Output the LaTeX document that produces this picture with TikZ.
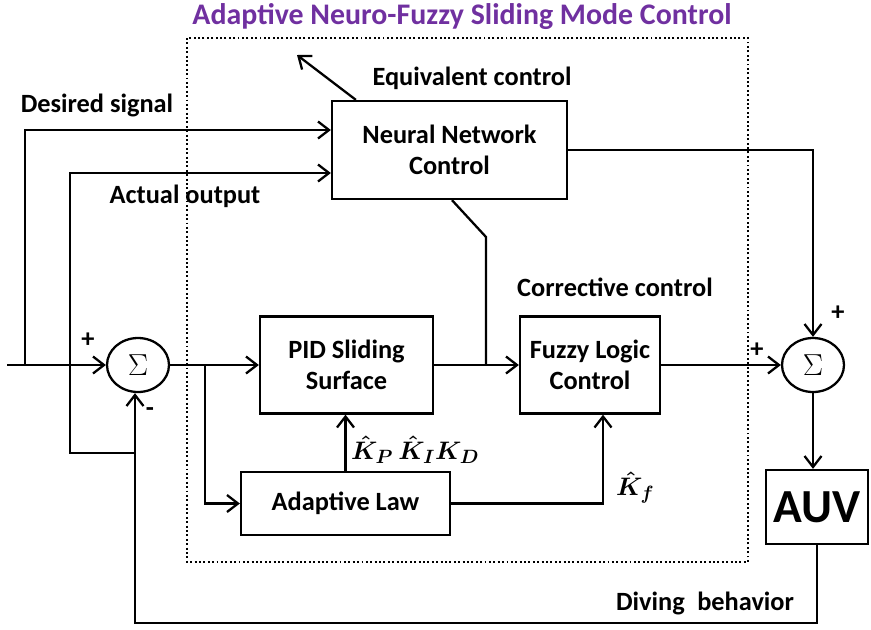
\documentclass[tikz,border=0pt]{standalone}
\usepackage{amsmath}
\usepackage{fontspec}
\setmainfont{Carlito}
\usetikzlibrary{arrows.meta,shapes.geometric}
\definecolor{titlepurple}{RGB}{112,48,160}
\begin{document}
\begin{tikzpicture}[line width=1.3pt,>={Straight Barb[length=2.2mm,width=3.4mm]},
  font=\fontsize{15}{18}\selectfont\bfseries,
  blk/.style={draw,align=center,inner sep=0pt},
  summer/.style={draw,ellipse,minimum width=1.24cm,minimum height=1.08cm,inner sep=0pt,font=\fontsize{16}{16}\selectfont},
  lbl/.style={inner sep=0pt},
  gain/.style={inner sep=0pt,font=\fontsize{15}{15}\selectfont\boldmath}]
\useasboundingbox (0,0) rectangle (17.42,-12.58);
\draw [line width=1.2pt,dash pattern=on 1.1pt off 1.4pt] (3.74,-0.76) rectangle (14.96,-11.24);
\node [lbl,text=titlepurple,font=\fontsize{17}{20}\selectfont\bfseries] (title) at (9.24,-0.34) {Adaptive Neuro-Fuzzy Sliding Mode Control};
\node [blk,minimum width=4.7cm,minimum height=1.96cm] (nnc) at (8.99,-3.0) {Neural Network\\Control};
\node [blk,minimum width=3.46cm,minimum height=1.94cm] (pid) at (6.93,-7.3) {PID Sliding\\Surface};
\node [blk,minimum width=2.8cm,minimum height=1.94cm] (flc) at (11.8,-7.3) {Fuzzy Logic\\Control};
\node [blk,minimum width=4.18cm,minimum height=1.26cm] (alaw) at (6.91,-10.07) {Adaptive Law};
\node [blk,minimum width=2.04cm,minimum height=1.48cm,font=\fontsize{27}{27}\selectfont\bfseries] (auv) at (16.34,-10.14) {AUV};
\node [summer] (sumA) at (2.76,-7.3) {$\Sigma$};
\node [summer] (sumB) at (16.26,-7.3) {$\Sigma$};
\coordinate (in) at (0.14,-7.3);
\coordinate (ds) at (0.5,-7.3);
\coordinate (ao) at (2.7,-9.06);
\coordinate (br) at (4.1,-7.3);
\coordinate (jn) at (9.72,-7.3);
\coordinate (eq) at (5.94,-1.1);
\coordinate (fb) at (2.7,-12.46);
\draw [->] (in) -- (sumA);
\draw [->] (ds) |- ([yshift=0.4cm]nnc.west);
\draw [->] (ao) -- (1.4,-9.06) |- ([yshift=-0.46cm]nnc.west);
\draw [->] (sumA) -- (pid);
\draw [->] (br) |- (alaw);
\draw [->] (pid) -- (flc);
\draw ([xshift=0.05cm]nnc.south) -- (9.72,-4.74) -- (jn);
\draw [->] ([xshift=0.5cm]nnc.north west) -- (eq);
\draw [->] (alaw.north) -- (alaw.north |- pid.south);
\draw [->] (alaw) -| ([xshift=0.26cm]flc.south);
\draw [->] (flc) -- (sumB);
\draw [->] (nnc) -| (sumB);
\draw [->] (sumB) -- (sumB |- auv.north);
\draw [->] (auv) |- (fb) -- (fb |- sumA.south);
\node [lbl] (dsl) at (1.94,-2.1) {Desired signal};
\node [lbl] (aol) at (3.7,-3.92) {Actual output};
\node [lbl] (eql) at (9.44,-1.56) {Equivalent control};
\node [lbl] (ccl) at (12.3,-5.74) {Corrective control};
\node [lbl] (dbl) at (14.1,-12.06) {Diving\hspace{0.25em} behavior};
\node [lbl] (pA) at (1.76,-6.8) {+};
\node [lbl] (mA) at (3.0,-8.24) {-};
\node [lbl] (pB) at (15.14,-7.0) {+};
\node [lbl] (pC) at (16.76,-6.26) {+};
\node [gain,anchor=west] (kpid) at (7.0,-9.0) {$\hat{K}_P\,\hat{K}_I K_D$};
\node [gain,anchor=west] (kf) at (12.3,-9.75) {$\hat{K}_f$};
\end{tikzpicture}
\end{document}
